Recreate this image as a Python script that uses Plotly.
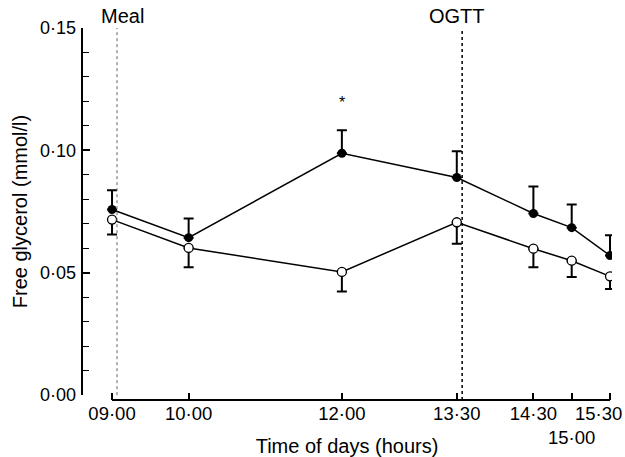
import plotly.graph_objects as go

# ---- data ----
times = [9.0, 10.0, 12.0, 13.5, 14.5, 15.0, 15.5]
tick_labels = ["09·00", "10·00", "12·00", "13·30", "14·30", " <br>15·00", "15·30"]

filled_mean = [0.0758, 0.0643, 0.0988, 0.0889, 0.0742, 0.0684, 0.0570]
filled_se = [0.0079, 0.0078, 0.0094, 0.0107, 0.0110, 0.0095, 0.0083]

open_mean = [0.0717, 0.0601, 0.0503, 0.0706, 0.0598, 0.0549, 0.0485]
open_se = [0.0061, 0.0079, 0.0080, 0.0088, 0.0076, 0.0067, 0.0052]

y_ticks = [0.00, 0.05, 0.10, 0.15]
y_tick_labels = ["0·00", "0·05", "0·10", "0·15"]

meal_time = 9.065
ogtt_time = 13.57
star_time = 12.0
star_value = 0.1195

FONT = "Liberation Sans, Arial, sans-serif"

fig = go.Figure()

fig.add_trace(go.Scatter(
    x=times, y=filled_mean, mode="lines+markers",
    line=dict(color="black", width=1.5),
    marker=dict(symbol="circle", size=9, color="black"),
    error_y=dict(type="data", symmetric=False, array=filled_se,
                 arrayminus=[0] * len(filled_se),
                 color="black", thickness=2, width=5),
    showlegend=False,
))

fig.add_trace(go.Scatter(
    x=times, y=open_mean, mode="lines+markers",
    line=dict(color="black", width=1.5),
    marker=dict(symbol="circle", size=9, color="white",
                line=dict(color="black", width=1.3)),
    error_y=dict(type="data", symmetric=False, array=[0] * len(open_se),
                 arrayminus=open_se,
                 color="black", thickness=2, width=5),
    showlegend=False,
))

# vertical event lines
fig.add_shape(type="line", xref="x", yref="paper", x0=meal_time, x1=meal_time,
              y0=0.013, y1=1.0, line=dict(color="#666666", width=1, dash="dot"))
fig.add_shape(type="line", xref="x", yref="paper", x0=ogtt_time, x1=ogtt_time,
              y0=0.0, y1=1.0, line=dict(color="black", width=1.5, dash="dot"))

# axis lines
fig.add_shape(type="line", xref="x", yref="paper", x0=times[0], x1=times[-1],
              y0=0, y1=0, line=dict(color="black", width=2))
fig.add_shape(type="line", xref="paper", yref="y", x0=0, x1=0,
              y0=y_ticks[0], y1=y_ticks[-1], line=dict(color="black", width=2))

# labels
fig.add_annotation(x=meal_time + 0.075, xref="x", y=1.0, yref="paper",
                   yanchor="bottom", yshift=-1, text="Meal", showarrow=False,
                   font=dict(family=FONT, size=20, color="black"))
fig.add_annotation(x=13.5, xref="x", y=1.0, yref="paper",
                   yanchor="bottom", yshift=-1, text="OGTT", showarrow=False,
                   font=dict(family=FONT, size=20, color="black"))
fig.add_annotation(x=star_time, xref="x", y=star_value, yref="y",
                   text="*", showarrow=False,
                   font=dict(family=FONT, size=16, color="black"))
# last tick label sits left of its tick so it fits inside the figure
fig.add_annotation(x=times[-1], xref="x", y=0, yref="paper",
                   xanchor="right", xshift=14, yanchor="top", yshift=-1,
                   text=tick_labels[-1], showarrow=False,
                   font=dict(family=FONT, size=18.5, color="black"))

fig.update_layout(
    width=625, height=457,
    margin=dict(l=82, r=13, t=28, b=57),
    paper_bgcolor="white", plot_bgcolor="white",
    font=dict(family=FONT, size=18, color="black"),
    xaxis=dict(
        range=[8.608, 15.526], tickmode="array", tickvals=times,
        ticktext=tick_labels[:-1] + [""], ticks="inside", ticklen=7, tickwidth=1.5,
        tickcolor="black", showline=False, showgrid=False, zeroline=False,
        anchor="free", position=0, tickangle=0, automargin=False,
        ticklabeloverflow="allow",
        tickfont=dict(family=FONT, size=18.5),
        title=dict(text="Time of days (hours)", font=dict(family=FONT, size=20),
                   standoff=2),
    ),
    yaxis=dict(
        range=[0, 0.15], domain=[0.0134, 1.0], tickmode="array",
        tickvals=y_ticks, ticktext=y_tick_labels, automargin=False,
        ticks="inside", ticklen=8, tickwidth=1.5, tickcolor="black",
        ticklabelstandoff=5,
        minor=dict(dtick=0.01, ticks="inside", ticklen=7, tickwidth=1.2,
                   tickcolor="black", showgrid=False),
        showline=False, showgrid=False, zeroline=False,
        tickfont=dict(family=FONT, size=18),
        title=dict(text="Free glycerol (mmol/l)", font=dict(family=FONT, size=20),
                   standoff=6),
    ),
)

fig.write_html("out.html", config={"displayModeBar": False},
               post_script="document.body.style.margin='0';document.body.style.padding='0';")
